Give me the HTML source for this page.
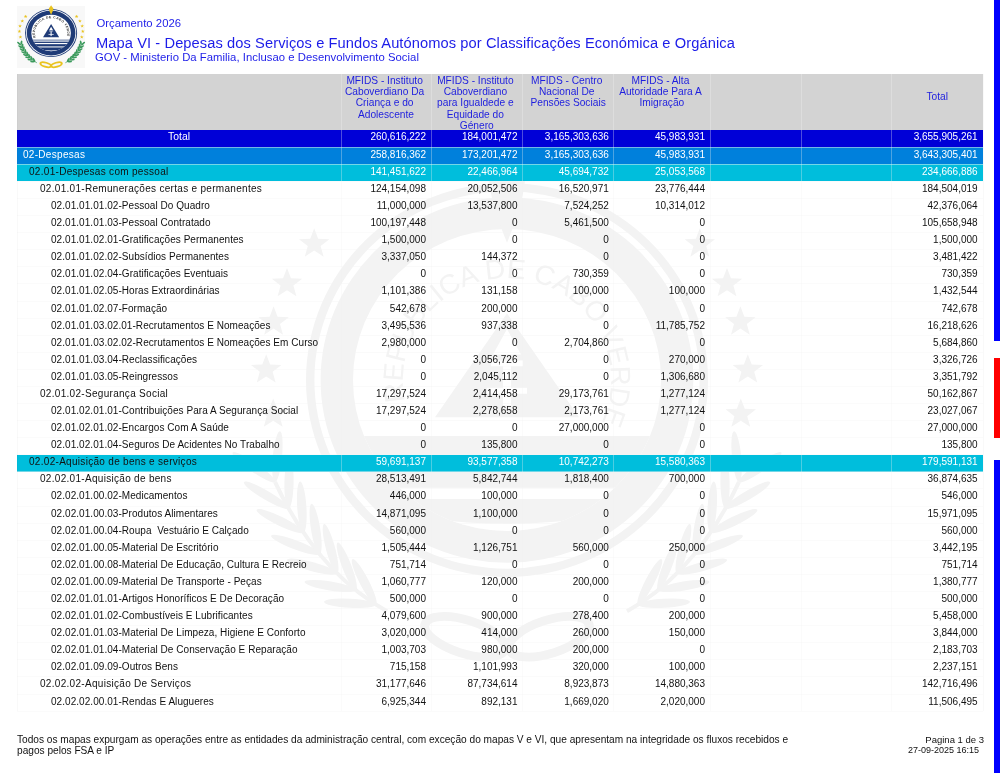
<!DOCTYPE html>
<html><head><meta charset="utf-8"><title>Mapa VI</title><style>
*{margin:0;padding:0;box-sizing:border-box}
html,body{width:1000px;height:773px;overflow:hidden;background:#fff}
body{position:relative;font-family:"Liberation Sans",sans-serif;color:#000}
#pg{position:absolute;left:0;top:0;width:1000px;height:773px;will-change:transform}
.a{position:absolute;white-space:pre;line-height:1}
.r{position:absolute;left:17px;width:966px}
</style></head><body><div id="pg">
<svg class="a" style="left:0;top:0" width="1000" height="773" viewBox="0 0 1000 773"><g transform="translate(507 380) scale(2.0 1.96)"><polygon points="-96.40,-77.40 -94.43,-72.12 -88.79,-71.87 -93.20,-68.36 -91.70,-62.93 -96.40,-66.04 -101.10,-62.93 -99.60,-68.36 -104.01,-71.87 -98.37,-72.12" fill="#f3f3f3"/><polygon points="96.40,-77.40 98.37,-72.12 104.01,-71.87 99.60,-68.36 101.10,-62.93 96.40,-66.04 91.70,-62.93 93.20,-68.36 88.79,-71.87 94.43,-72.12" fill="#f3f3f3"/><polygon points="-110.00,-57.20 -108.03,-51.92 -102.39,-51.67 -106.80,-48.16 -105.30,-42.73 -110.00,-45.84 -114.70,-42.73 -113.20,-48.16 -117.61,-51.67 -111.97,-51.92" fill="#f3f3f3"/><polygon points="110.00,-57.20 111.97,-51.92 117.61,-51.67 113.20,-48.16 114.70,-42.73 110.00,-45.84 105.30,-42.73 106.80,-48.16 102.39,-51.67 108.03,-51.92" fill="#f3f3f3"/><polygon points="-116.70,-37.60 -114.73,-32.32 -109.09,-32.07 -113.50,-28.56 -112.00,-23.13 -116.70,-26.24 -121.40,-23.13 -119.90,-28.56 -124.31,-32.07 -118.67,-32.32" fill="#f3f3f3"/><polygon points="116.70,-37.60 118.67,-32.32 124.31,-32.07 119.90,-28.56 121.40,-23.13 116.70,-26.24 112.00,-23.13 113.50,-28.56 109.09,-32.07 114.73,-32.32" fill="#f3f3f3"/><polygon points="-120.40,-13.20 -118.43,-7.92 -112.79,-7.67 -117.20,-4.16 -115.70,1.27 -120.40,-1.84 -125.10,1.27 -123.60,-4.16 -128.01,-7.67 -122.37,-7.92" fill="#f3f3f3"/><polygon points="120.40,-13.20 122.37,-7.92 128.01,-7.67 123.60,-4.16 125.10,1.27 120.40,-1.84 115.70,1.27 117.20,-4.16 112.79,-7.67 118.43,-7.92" fill="#f3f3f3"/><polygon points="-116.90,9.40 -114.93,14.68 -109.29,14.93 -113.70,18.44 -112.20,23.87 -116.90,20.76 -121.60,23.87 -120.10,18.44 -124.51,14.93 -118.87,14.68" fill="#f3f3f3"/><polygon points="116.90,9.40 118.87,14.68 124.51,14.93 120.10,18.44 121.60,23.87 116.90,20.76 112.20,23.87 113.70,18.44 109.29,14.93 114.93,14.68" fill="#f3f3f3"/><path d="M-116.0,52.0 Q-95.0,98.0 -60.0,118.0" stroke="#f3f3f3" stroke-width="2.0" fill="none"/><ellipse cx="-126.6" cy="44.5" rx="13.0" ry="2.3" transform="rotate(215.5 -126.6 44.5)" fill="#f3f3f3"/><ellipse cx="-114.8" cy="39.1" rx="13.0" ry="2.3" transform="rotate(275.5 -114.8 39.1)" fill="#f3f3f3"/><ellipse cx="-120.4" cy="58.8" rx="13.0" ry="2.3" transform="rotate(211.1 -120.4 58.8)" fill="#f3f3f3"/><ellipse cx="-109.0" cy="52.5" rx="13.0" ry="2.3" transform="rotate(271.1 -109.0 52.5)" fill="#f3f3f3"/><ellipse cx="-113.5" cy="72.0" rx="13.0" ry="2.3" transform="rotate(206.4 -113.5 72.0)" fill="#f3f3f3"/><ellipse cx="-102.6" cy="64.8" rx="13.0" ry="2.3" transform="rotate(266.4 -102.6 64.8)" fill="#f3f3f3"/><ellipse cx="-105.8" cy="84.1" rx="13.0" ry="2.3" transform="rotate(201.1 -105.8 84.1)" fill="#f3f3f3"/><ellipse cx="-95.7" cy="76.0" rx="13.0" ry="2.3" transform="rotate(261.1 -95.7 76.0)" fill="#f3f3f3"/><ellipse cx="-97.5" cy="95.2" rx="13.0" ry="2.3" transform="rotate(195.4 -97.5 95.2)" fill="#f3f3f3"/><ellipse cx="-88.2" cy="86.1" rx="13.0" ry="2.3" transform="rotate(255.4 -88.2 86.1)" fill="#f3f3f3"/><ellipse cx="-88.4" cy="105.1" rx="13.0" ry="2.3" transform="rotate(189.4 -88.4 105.1)" fill="#f3f3f3"/><ellipse cx="-80.1" cy="95.1" rx="13.0" ry="2.3" transform="rotate(249.4 -80.1 95.1)" fill="#f3f3f3"/><ellipse cx="-78.5" cy="113.9" rx="13.0" ry="2.3" transform="rotate(183.1 -78.5 113.9)" fill="#f3f3f3"/><ellipse cx="-71.4" cy="103.0" rx="13.0" ry="2.3" transform="rotate(243.1 -71.4 103.0)" fill="#f3f3f3"/><path d="M116.0,52.0 Q95.0,98.0 60.0,118.0" stroke="#f3f3f3" stroke-width="2.0" fill="none"/><ellipse cx="114.8" cy="39.1" rx="13.0" ry="2.3" transform="rotate(264.5 114.8 39.1)" fill="#f3f3f3"/><ellipse cx="126.6" cy="44.5" rx="13.0" ry="2.3" transform="rotate(324.5 126.6 44.5)" fill="#f3f3f3"/><ellipse cx="109.0" cy="52.5" rx="13.0" ry="2.3" transform="rotate(268.9 109.0 52.5)" fill="#f3f3f3"/><ellipse cx="120.4" cy="58.8" rx="13.0" ry="2.3" transform="rotate(328.9 120.4 58.8)" fill="#f3f3f3"/><ellipse cx="102.6" cy="64.8" rx="13.0" ry="2.3" transform="rotate(273.6 102.6 64.8)" fill="#f3f3f3"/><ellipse cx="113.5" cy="72.0" rx="13.0" ry="2.3" transform="rotate(333.6 113.5 72.0)" fill="#f3f3f3"/><ellipse cx="95.7" cy="76.0" rx="13.0" ry="2.3" transform="rotate(278.9 95.7 76.0)" fill="#f3f3f3"/><ellipse cx="105.8" cy="84.1" rx="13.0" ry="2.3" transform="rotate(338.9 105.8 84.1)" fill="#f3f3f3"/><ellipse cx="88.2" cy="86.1" rx="13.0" ry="2.3" transform="rotate(284.6 88.2 86.1)" fill="#f3f3f3"/><ellipse cx="97.5" cy="95.2" rx="13.0" ry="2.3" transform="rotate(344.6 97.5 95.2)" fill="#f3f3f3"/><ellipse cx="80.1" cy="95.1" rx="13.0" ry="2.3" transform="rotate(290.6 80.1 95.1)" fill="#f3f3f3"/><ellipse cx="88.4" cy="105.1" rx="13.0" ry="2.3" transform="rotate(350.6 88.4 105.1)" fill="#f3f3f3"/><ellipse cx="71.4" cy="103.0" rx="13.0" ry="2.3" transform="rotate(296.9 71.4 103.0)" fill="#f3f3f3"/><ellipse cx="78.5" cy="113.9" rx="13.0" ry="2.3" transform="rotate(356.9 78.5 113.9)" fill="#f3f3f3"/><ellipse cx="-21" cy="131" rx="21" ry="8.5" transform="rotate(18 -21 131)" fill="none" stroke="#f3f3f3" stroke-width="4.5"/><ellipse cx="21" cy="131" rx="21" ry="8.5" transform="rotate(-18 21 131)" fill="none" stroke="#f3f3f3" stroke-width="4.5"/><circle r="100.5" fill="#f3f3f3"/><circle r="96.3" fill="#ffffff"/><circle r="93.2" fill="#f3f3f3"/><circle r="77" fill="#ffffff"/><clipPath id="cpW"><circle r="77"/></clipPath><g clip-path="url(#cpW)"><rect x="-90" y="28.6" width="180" height="70" fill="#f3f3f3"/><rect x="-90" y="41.5" width="180" height="5" fill="#ffffff"/><rect x="-90" y="55" width="180" height="5.7" fill="#ffffff"/><path d="M-40,70.4 Q0,76.4 40,70.4 L37,76.6 Q0,82.6 -37,76.6 Z" fill="#ffffff"/></g><polygon points="0,-34 36,19 -36,19" fill="#f3f3f3"/><rect x="-8" y="-10" width="16" height="3" fill="#ffffff"/><rect x="-2" y="-7" width="4" height="20" fill="#ffffff"/><rect x="-10" y="4" width="20" height="3" fill="#ffffff"/><polygon points="0,-26 7,-13 -7,-13" fill="#ffffff"/><path d="M0,-116 L-3,-110 L-9,-102 Q-8,-90 0,-70 Q8,-90 9,-102 L3,-110 Z" fill="#f3f3f3"/><path id="arcW" d="M-50.9,10.8 A52,52 0 1,1 47.5,21.2" fill="none"/><text font-family="Liberation Sans, sans-serif" font-size="14" font-weight="normal" fill="#f3f3f3" ><textPath href="#arcW" startOffset="0" textLength="196.0" lengthAdjust="spacing">REPUBLICA DE CABO VERDE</textPath></text></g></svg>
<div class="a" style="left:17px;top:74px;width:966px;height:56.099999999999994px;background:#d3d3d3"></div>
<div class="a" style="left:339.6px;width:90.0px;top:75.60px;font-size:10.2px;color:#1e1ede;text-align:center">MFIDS - Instituto</div>
<div class="a" style="left:339.6px;width:90.0px;top:87.00px;font-size:10.2px;color:#1e1ede;text-align:center">Caboverdiano Da</div>
<div class="a" style="left:339.6px;width:90.0px;top:98.40px;font-size:10.2px;color:#1e1ede;text-align:center">Criança e do</div>
<div class="a" style="left:341.0px;width:90.0px;top:109.80px;font-size:10.2px;color:#1e1ede;text-align:center">Adolescente</div>
<div class="a" style="left:429.6px;width:91.5px;top:75.60px;font-size:10.2px;color:#1e1ede;text-align:center">MFIDS - Instituto</div>
<div class="a" style="left:429.6px;width:91.5px;top:87.00px;font-size:10.2px;color:#1e1ede;text-align:center">Caboverdiano</div>
<div class="a" style="left:429.6px;width:91.5px;top:98.40px;font-size:10.2px;color:#1e1ede;text-align:center">para Igualdede e</div>
<div class="a" style="left:429.6px;width:91.5px;top:109.80px;font-size:10.2px;color:#1e1ede;text-align:center">Equidade do</div>
<div class="a" style="left:431.0px;width:91.5px;top:121.20px;font-size:10.2px;color:#1e1ede;text-align:center">Género</div>
<div class="a" style="left:521.1px;width:91.2px;top:75.60px;font-size:10.2px;color:#1e1ede;text-align:center">MFIDS - Centro</div>
<div class="a" style="left:521.1px;width:91.2px;top:87.00px;font-size:10.2px;color:#1e1ede;text-align:center">Nacional De</div>
<div class="a" style="left:522.5px;width:91.2px;top:98.40px;font-size:10.2px;color:#1e1ede;text-align:center">Pensões Sociais</div>
<div class="a" style="left:612.4px;width:96.2px;top:75.60px;font-size:10.2px;color:#1e1ede;text-align:center">MFIDS - Alta</div>
<div class="a" style="left:612.4px;width:96.2px;top:87.00px;font-size:10.2px;color:#1e1ede;text-align:center">Autoridade Para A</div>
<div class="a" style="left:613.8px;width:96.2px;top:98.40px;font-size:10.2px;color:#1e1ede;text-align:center">Imigração</div>
<div class="a" style="left:710.0px;width:91.4px;top:75.60px;font-size:10.2px;color:#1e1ede;text-align:center"></div>
<div class="a" style="left:801.4px;width:90.0px;top:75.60px;font-size:10.2px;color:#1e1ede;text-align:center"></div>
<div class="a" style="left:891.4px;width:91.6px;top:92.30px;font-size:10.2px;color:#1e1ede;text-align:center">Total</div>
<div class="a" style="left:17px;top:130.10px;width:966px;height:17.09px;background:#0000d7"></div>
<div class="a" style="left:17px;width:324px;top:132.30px;font-size:10.4px;color:#ffffff;text-align:center;letter-spacing:0px">Total</div>
<div class="a" style="right:574.0px;top:132.30px;font-size:10px;color:#ffffff;letter-spacing:0px">260,616,222</div>
<div class="a" style="right:482.5px;top:132.30px;font-size:10px;color:#ffffff;letter-spacing:0px">184,001,472</div>
<div class="a" style="right:391.2px;top:132.30px;font-size:10px;color:#ffffff;letter-spacing:0px">3,165,303,636</div>
<div class="a" style="right:295.0px;top:132.30px;font-size:10px;color:#ffffff;letter-spacing:0px">45,983,931</div>
<div class="a" style="right:22.4px;top:132.30px;font-size:10px;color:#ffffff;letter-spacing:0px">3,655,905,261</div>
<div class="a" style="left:17px;top:147.19px;width:966px;height:17.09px;background:#0080dc"></div>
<div class="a" style="left:23px;top:149.69px;font-size:10px;color:#ffffff;letter-spacing:0.3px">02-Despesas</div>
<div class="a" style="right:574.0px;top:149.69px;font-size:10px;color:#ffffff;letter-spacing:0px">258,816,362</div>
<div class="a" style="right:482.5px;top:149.69px;font-size:10px;color:#ffffff;letter-spacing:0px">173,201,472</div>
<div class="a" style="right:391.2px;top:149.69px;font-size:10px;color:#ffffff;letter-spacing:0px">3,165,303,636</div>
<div class="a" style="right:295.0px;top:149.69px;font-size:10px;color:#ffffff;letter-spacing:0px">45,983,931</div>
<div class="a" style="right:22.4px;top:149.69px;font-size:10px;color:#ffffff;letter-spacing:0px">3,643,305,401</div>
<div class="a" style="left:17px;top:164.28px;width:966px;height:17.09px;background:#00bedc"></div>
<div class="a" style="left:29px;top:166.78px;font-size:10px;color:#111111;letter-spacing:0.3px">02.01-Despesas com pessoal</div>
<div class="a" style="right:574.0px;top:166.78px;font-size:10px;color:#ffffff;letter-spacing:0px">141,451,622</div>
<div class="a" style="right:482.5px;top:166.78px;font-size:10px;color:#ffffff;letter-spacing:0px">22,466,964</div>
<div class="a" style="right:391.2px;top:166.78px;font-size:10px;color:#ffffff;letter-spacing:0px">45,694,732</div>
<div class="a" style="right:295.0px;top:166.78px;font-size:10px;color:#ffffff;letter-spacing:0px">25,053,568</div>
<div class="a" style="right:22.4px;top:166.78px;font-size:10px;color:#ffffff;letter-spacing:0px">234,666,886</div>
<div class="a" style="left:40px;top:183.87px;font-size:10px;color:#111111;letter-spacing:0.3px">02.01.01-Remunerações certas e permanentes</div>
<div class="a" style="right:574.0px;top:183.87px;font-size:10px;color:#111111;letter-spacing:0px">124,154,098</div>
<div class="a" style="right:482.5px;top:183.87px;font-size:10px;color:#111111;letter-spacing:0px">20,052,506</div>
<div class="a" style="right:391.2px;top:183.87px;font-size:10px;color:#111111;letter-spacing:0px">16,520,971</div>
<div class="a" style="right:295.0px;top:183.87px;font-size:10px;color:#111111;letter-spacing:0px">23,776,444</div>
<div class="a" style="right:22.4px;top:183.87px;font-size:10px;color:#111111;letter-spacing:0px">184,504,019</div>
<div class="a" style="left:51px;top:200.96px;font-size:10px;color:#111111;letter-spacing:0.05px">02.01.01.01.02-Pessoal Do Quadro</div>
<div class="a" style="right:574.0px;top:200.96px;font-size:10px;color:#111111;letter-spacing:0px">11,000,000</div>
<div class="a" style="right:482.5px;top:200.96px;font-size:10px;color:#111111;letter-spacing:0px">13,537,800</div>
<div class="a" style="right:391.2px;top:200.96px;font-size:10px;color:#111111;letter-spacing:0px">7,524,252</div>
<div class="a" style="right:295.0px;top:200.96px;font-size:10px;color:#111111;letter-spacing:0px">10,314,012</div>
<div class="a" style="right:22.4px;top:200.96px;font-size:10px;color:#111111;letter-spacing:0px">42,376,064</div>
<div class="a" style="left:51px;top:218.05px;font-size:10px;color:#111111;letter-spacing:0.05px">02.01.01.01.03-Pessoal Contratado</div>
<div class="a" style="right:574.0px;top:218.05px;font-size:10px;color:#111111;letter-spacing:0px">100,197,448</div>
<div class="a" style="right:482.5px;top:218.05px;font-size:10px;color:#111111;letter-spacing:0px">0</div>
<div class="a" style="right:391.2px;top:218.05px;font-size:10px;color:#111111;letter-spacing:0px">5,461,500</div>
<div class="a" style="right:295.0px;top:218.05px;font-size:10px;color:#111111;letter-spacing:0px">0</div>
<div class="a" style="right:22.4px;top:218.05px;font-size:10px;color:#111111;letter-spacing:0px">105,658,948</div>
<div class="a" style="left:51px;top:235.14px;font-size:10px;color:#111111;letter-spacing:0.05px">02.01.01.02.01-Gratificações Permanentes</div>
<div class="a" style="right:574.0px;top:235.14px;font-size:10px;color:#111111;letter-spacing:0px">1,500,000</div>
<div class="a" style="right:482.5px;top:235.14px;font-size:10px;color:#111111;letter-spacing:0px">0</div>
<div class="a" style="right:391.2px;top:235.14px;font-size:10px;color:#111111;letter-spacing:0px">0</div>
<div class="a" style="right:295.0px;top:235.14px;font-size:10px;color:#111111;letter-spacing:0px">0</div>
<div class="a" style="right:22.4px;top:235.14px;font-size:10px;color:#111111;letter-spacing:0px">1,500,000</div>
<div class="a" style="left:51px;top:252.23px;font-size:10px;color:#111111;letter-spacing:0.05px">02.01.01.02.02-Subsídios Permanentes</div>
<div class="a" style="right:574.0px;top:252.23px;font-size:10px;color:#111111;letter-spacing:0px">3,337,050</div>
<div class="a" style="right:482.5px;top:252.23px;font-size:10px;color:#111111;letter-spacing:0px">144,372</div>
<div class="a" style="right:391.2px;top:252.23px;font-size:10px;color:#111111;letter-spacing:0px">0</div>
<div class="a" style="right:295.0px;top:252.23px;font-size:10px;color:#111111;letter-spacing:0px">0</div>
<div class="a" style="right:22.4px;top:252.23px;font-size:10px;color:#111111;letter-spacing:0px">3,481,422</div>
<div class="a" style="left:51px;top:269.32px;font-size:10px;color:#111111;letter-spacing:0.05px">02.01.01.02.04-Gratificações Eventuais</div>
<div class="a" style="right:574.0px;top:269.32px;font-size:10px;color:#111111;letter-spacing:0px">0</div>
<div class="a" style="right:482.5px;top:269.32px;font-size:10px;color:#111111;letter-spacing:0px">0</div>
<div class="a" style="right:391.2px;top:269.32px;font-size:10px;color:#111111;letter-spacing:0px">730,359</div>
<div class="a" style="right:295.0px;top:269.32px;font-size:10px;color:#111111;letter-spacing:0px">0</div>
<div class="a" style="right:22.4px;top:269.32px;font-size:10px;color:#111111;letter-spacing:0px">730,359</div>
<div class="a" style="left:51px;top:286.41px;font-size:10px;color:#111111;letter-spacing:0.05px">02.01.01.02.05-Horas Extraordinárias</div>
<div class="a" style="right:574.0px;top:286.41px;font-size:10px;color:#111111;letter-spacing:0px">1,101,386</div>
<div class="a" style="right:482.5px;top:286.41px;font-size:10px;color:#111111;letter-spacing:0px">131,158</div>
<div class="a" style="right:391.2px;top:286.41px;font-size:10px;color:#111111;letter-spacing:0px">100,000</div>
<div class="a" style="right:295.0px;top:286.41px;font-size:10px;color:#111111;letter-spacing:0px">100,000</div>
<div class="a" style="right:22.4px;top:286.41px;font-size:10px;color:#111111;letter-spacing:0px">1,432,544</div>
<div class="a" style="left:51px;top:303.50px;font-size:10px;color:#111111;letter-spacing:0.05px">02.01.01.02.07-Formação</div>
<div class="a" style="right:574.0px;top:303.50px;font-size:10px;color:#111111;letter-spacing:0px">542,678</div>
<div class="a" style="right:482.5px;top:303.50px;font-size:10px;color:#111111;letter-spacing:0px">200,000</div>
<div class="a" style="right:391.2px;top:303.50px;font-size:10px;color:#111111;letter-spacing:0px">0</div>
<div class="a" style="right:295.0px;top:303.50px;font-size:10px;color:#111111;letter-spacing:0px">0</div>
<div class="a" style="right:22.4px;top:303.50px;font-size:10px;color:#111111;letter-spacing:0px">742,678</div>
<div class="a" style="left:51px;top:320.59px;font-size:10px;color:#111111;letter-spacing:0.05px">02.01.01.03.02.01-Recrutamentos E Nomeações</div>
<div class="a" style="right:574.0px;top:320.59px;font-size:10px;color:#111111;letter-spacing:0px">3,495,536</div>
<div class="a" style="right:482.5px;top:320.59px;font-size:10px;color:#111111;letter-spacing:0px">937,338</div>
<div class="a" style="right:391.2px;top:320.59px;font-size:10px;color:#111111;letter-spacing:0px">0</div>
<div class="a" style="right:295.0px;top:320.59px;font-size:10px;color:#111111;letter-spacing:0px">11,785,752</div>
<div class="a" style="right:22.4px;top:320.59px;font-size:10px;color:#111111;letter-spacing:0px">16,218,626</div>
<div class="a" style="left:51px;top:337.68px;font-size:10px;color:#111111;letter-spacing:0.05px">02.01.01.03.02.02-Recrutamentos E Nomeações Em Curso</div>
<div class="a" style="right:574.0px;top:337.68px;font-size:10px;color:#111111;letter-spacing:0px">2,980,000</div>
<div class="a" style="right:482.5px;top:337.68px;font-size:10px;color:#111111;letter-spacing:0px">0</div>
<div class="a" style="right:391.2px;top:337.68px;font-size:10px;color:#111111;letter-spacing:0px">2,704,860</div>
<div class="a" style="right:295.0px;top:337.68px;font-size:10px;color:#111111;letter-spacing:0px">0</div>
<div class="a" style="right:22.4px;top:337.68px;font-size:10px;color:#111111;letter-spacing:0px">5,684,860</div>
<div class="a" style="left:51px;top:354.77px;font-size:10px;color:#111111;letter-spacing:0.05px">02.01.01.03.04-Reclassificações</div>
<div class="a" style="right:574.0px;top:354.77px;font-size:10px;color:#111111;letter-spacing:0px">0</div>
<div class="a" style="right:482.5px;top:354.77px;font-size:10px;color:#111111;letter-spacing:0px">3,056,726</div>
<div class="a" style="right:391.2px;top:354.77px;font-size:10px;color:#111111;letter-spacing:0px">0</div>
<div class="a" style="right:295.0px;top:354.77px;font-size:10px;color:#111111;letter-spacing:0px">270,000</div>
<div class="a" style="right:22.4px;top:354.77px;font-size:10px;color:#111111;letter-spacing:0px">3,326,726</div>
<div class="a" style="left:51px;top:371.86px;font-size:10px;color:#111111;letter-spacing:0.05px">02.01.01.03.05-Reingressos</div>
<div class="a" style="right:574.0px;top:371.86px;font-size:10px;color:#111111;letter-spacing:0px">0</div>
<div class="a" style="right:482.5px;top:371.86px;font-size:10px;color:#111111;letter-spacing:0px">2,045,112</div>
<div class="a" style="right:391.2px;top:371.86px;font-size:10px;color:#111111;letter-spacing:0px">0</div>
<div class="a" style="right:295.0px;top:371.86px;font-size:10px;color:#111111;letter-spacing:0px">1,306,680</div>
<div class="a" style="right:22.4px;top:371.86px;font-size:10px;color:#111111;letter-spacing:0px">3,351,792</div>
<div class="a" style="left:40px;top:388.95px;font-size:10px;color:#111111;letter-spacing:0.3px">02.01.02-Segurança Social</div>
<div class="a" style="right:574.0px;top:388.95px;font-size:10px;color:#111111;letter-spacing:0px">17,297,524</div>
<div class="a" style="right:482.5px;top:388.95px;font-size:10px;color:#111111;letter-spacing:0px">2,414,458</div>
<div class="a" style="right:391.2px;top:388.95px;font-size:10px;color:#111111;letter-spacing:0px">29,173,761</div>
<div class="a" style="right:295.0px;top:388.95px;font-size:10px;color:#111111;letter-spacing:0px">1,277,124</div>
<div class="a" style="right:22.4px;top:388.95px;font-size:10px;color:#111111;letter-spacing:0px">50,162,867</div>
<div class="a" style="left:51px;top:406.04px;font-size:10px;color:#111111;letter-spacing:0.05px">02.01.02.01.01-Contribuições Para A Segurança Social</div>
<div class="a" style="right:574.0px;top:406.04px;font-size:10px;color:#111111;letter-spacing:0px">17,297,524</div>
<div class="a" style="right:482.5px;top:406.04px;font-size:10px;color:#111111;letter-spacing:0px">2,278,658</div>
<div class="a" style="right:391.2px;top:406.04px;font-size:10px;color:#111111;letter-spacing:0px">2,173,761</div>
<div class="a" style="right:295.0px;top:406.04px;font-size:10px;color:#111111;letter-spacing:0px">1,277,124</div>
<div class="a" style="right:22.4px;top:406.04px;font-size:10px;color:#111111;letter-spacing:0px">23,027,067</div>
<div class="a" style="left:51px;top:423.13px;font-size:10px;color:#111111;letter-spacing:0.05px">02.01.02.01.02-Encargos Com A Saúde</div>
<div class="a" style="right:574.0px;top:423.13px;font-size:10px;color:#111111;letter-spacing:0px">0</div>
<div class="a" style="right:482.5px;top:423.13px;font-size:10px;color:#111111;letter-spacing:0px">0</div>
<div class="a" style="right:391.2px;top:423.13px;font-size:10px;color:#111111;letter-spacing:0px">27,000,000</div>
<div class="a" style="right:295.0px;top:423.13px;font-size:10px;color:#111111;letter-spacing:0px">0</div>
<div class="a" style="right:22.4px;top:423.13px;font-size:10px;color:#111111;letter-spacing:0px">27,000,000</div>
<div class="a" style="left:51px;top:440.22px;font-size:10px;color:#111111;letter-spacing:0.05px">02.01.02.01.04-Seguros De Acidentes No Trabalho</div>
<div class="a" style="right:574.0px;top:440.22px;font-size:10px;color:#111111;letter-spacing:0px">0</div>
<div class="a" style="right:482.5px;top:440.22px;font-size:10px;color:#111111;letter-spacing:0px">135,800</div>
<div class="a" style="right:391.2px;top:440.22px;font-size:10px;color:#111111;letter-spacing:0px">0</div>
<div class="a" style="right:295.0px;top:440.22px;font-size:10px;color:#111111;letter-spacing:0px">0</div>
<div class="a" style="right:22.4px;top:440.22px;font-size:10px;color:#111111;letter-spacing:0px">135,800</div>
<div class="a" style="left:17px;top:454.81px;width:966px;height:17.09px;background:#00bedc"></div>
<div class="a" style="left:29px;top:457.31px;font-size:10px;color:#111111;letter-spacing:0.3px">02.02-Aquisição de bens e serviços</div>
<div class="a" style="right:574.0px;top:457.31px;font-size:10px;color:#ffffff;letter-spacing:0px">59,691,137</div>
<div class="a" style="right:482.5px;top:457.31px;font-size:10px;color:#ffffff;letter-spacing:0px">93,577,358</div>
<div class="a" style="right:391.2px;top:457.31px;font-size:10px;color:#ffffff;letter-spacing:0px">10,742,273</div>
<div class="a" style="right:295.0px;top:457.31px;font-size:10px;color:#ffffff;letter-spacing:0px">15,580,363</div>
<div class="a" style="right:22.4px;top:457.31px;font-size:10px;color:#ffffff;letter-spacing:0px">179,591,131</div>
<div class="a" style="left:40px;top:474.40px;font-size:10px;color:#111111;letter-spacing:0.3px">02.02.01-Aquisição de bens</div>
<div class="a" style="right:574.0px;top:474.40px;font-size:10px;color:#111111;letter-spacing:0px">28,513,491</div>
<div class="a" style="right:482.5px;top:474.40px;font-size:10px;color:#111111;letter-spacing:0px">5,842,744</div>
<div class="a" style="right:391.2px;top:474.40px;font-size:10px;color:#111111;letter-spacing:0px">1,818,400</div>
<div class="a" style="right:295.0px;top:474.40px;font-size:10px;color:#111111;letter-spacing:0px">700,000</div>
<div class="a" style="right:22.4px;top:474.40px;font-size:10px;color:#111111;letter-spacing:0px">36,874,635</div>
<div class="a" style="left:51px;top:491.49px;font-size:10px;color:#111111;letter-spacing:0.05px">02.02.01.00.02-Medicamentos</div>
<div class="a" style="right:574.0px;top:491.49px;font-size:10px;color:#111111;letter-spacing:0px">446,000</div>
<div class="a" style="right:482.5px;top:491.49px;font-size:10px;color:#111111;letter-spacing:0px">100,000</div>
<div class="a" style="right:391.2px;top:491.49px;font-size:10px;color:#111111;letter-spacing:0px">0</div>
<div class="a" style="right:295.0px;top:491.49px;font-size:10px;color:#111111;letter-spacing:0px">0</div>
<div class="a" style="right:22.4px;top:491.49px;font-size:10px;color:#111111;letter-spacing:0px">546,000</div>
<div class="a" style="left:51px;top:508.58px;font-size:10px;color:#111111;letter-spacing:0.05px">02.02.01.00.03-Produtos Alimentares</div>
<div class="a" style="right:574.0px;top:508.58px;font-size:10px;color:#111111;letter-spacing:0px">14,871,095</div>
<div class="a" style="right:482.5px;top:508.58px;font-size:10px;color:#111111;letter-spacing:0px">1,100,000</div>
<div class="a" style="right:391.2px;top:508.58px;font-size:10px;color:#111111;letter-spacing:0px">0</div>
<div class="a" style="right:295.0px;top:508.58px;font-size:10px;color:#111111;letter-spacing:0px">0</div>
<div class="a" style="right:22.4px;top:508.58px;font-size:10px;color:#111111;letter-spacing:0px">15,971,095</div>
<div class="a" style="left:51px;top:525.67px;font-size:10px;color:#111111;letter-spacing:0.05px">02.02.01.00.04-Roupa  Vestuário E Calçado</div>
<div class="a" style="right:574.0px;top:525.67px;font-size:10px;color:#111111;letter-spacing:0px">560,000</div>
<div class="a" style="right:482.5px;top:525.67px;font-size:10px;color:#111111;letter-spacing:0px">0</div>
<div class="a" style="right:391.2px;top:525.67px;font-size:10px;color:#111111;letter-spacing:0px">0</div>
<div class="a" style="right:295.0px;top:525.67px;font-size:10px;color:#111111;letter-spacing:0px">0</div>
<div class="a" style="right:22.4px;top:525.67px;font-size:10px;color:#111111;letter-spacing:0px">560,000</div>
<div class="a" style="left:51px;top:542.76px;font-size:10px;color:#111111;letter-spacing:0.05px">02.02.01.00.05-Material De Escritório</div>
<div class="a" style="right:574.0px;top:542.76px;font-size:10px;color:#111111;letter-spacing:0px">1,505,444</div>
<div class="a" style="right:482.5px;top:542.76px;font-size:10px;color:#111111;letter-spacing:0px">1,126,751</div>
<div class="a" style="right:391.2px;top:542.76px;font-size:10px;color:#111111;letter-spacing:0px">560,000</div>
<div class="a" style="right:295.0px;top:542.76px;font-size:10px;color:#111111;letter-spacing:0px">250,000</div>
<div class="a" style="right:22.4px;top:542.76px;font-size:10px;color:#111111;letter-spacing:0px">3,442,195</div>
<div class="a" style="left:51px;top:559.85px;font-size:10px;color:#111111;letter-spacing:0.05px">02.02.01.00.08-Material De Educação, Cultura E Recreio</div>
<div class="a" style="right:574.0px;top:559.85px;font-size:10px;color:#111111;letter-spacing:0px">751,714</div>
<div class="a" style="right:482.5px;top:559.85px;font-size:10px;color:#111111;letter-spacing:0px">0</div>
<div class="a" style="right:391.2px;top:559.85px;font-size:10px;color:#111111;letter-spacing:0px">0</div>
<div class="a" style="right:295.0px;top:559.85px;font-size:10px;color:#111111;letter-spacing:0px">0</div>
<div class="a" style="right:22.4px;top:559.85px;font-size:10px;color:#111111;letter-spacing:0px">751,714</div>
<div class="a" style="left:51px;top:576.94px;font-size:10px;color:#111111;letter-spacing:0.05px">02.02.01.00.09-Material De Transporte - Peças</div>
<div class="a" style="right:574.0px;top:576.94px;font-size:10px;color:#111111;letter-spacing:0px">1,060,777</div>
<div class="a" style="right:482.5px;top:576.94px;font-size:10px;color:#111111;letter-spacing:0px">120,000</div>
<div class="a" style="right:391.2px;top:576.94px;font-size:10px;color:#111111;letter-spacing:0px">200,000</div>
<div class="a" style="right:295.0px;top:576.94px;font-size:10px;color:#111111;letter-spacing:0px">0</div>
<div class="a" style="right:22.4px;top:576.94px;font-size:10px;color:#111111;letter-spacing:0px">1,380,777</div>
<div class="a" style="left:51px;top:594.03px;font-size:10px;color:#111111;letter-spacing:0.05px">02.02.01.01.01-Artigos Honoríficos E De Decoração</div>
<div class="a" style="right:574.0px;top:594.03px;font-size:10px;color:#111111;letter-spacing:0px">500,000</div>
<div class="a" style="right:482.5px;top:594.03px;font-size:10px;color:#111111;letter-spacing:0px">0</div>
<div class="a" style="right:391.2px;top:594.03px;font-size:10px;color:#111111;letter-spacing:0px">0</div>
<div class="a" style="right:295.0px;top:594.03px;font-size:10px;color:#111111;letter-spacing:0px">0</div>
<div class="a" style="right:22.4px;top:594.03px;font-size:10px;color:#111111;letter-spacing:0px">500,000</div>
<div class="a" style="left:51px;top:611.12px;font-size:10px;color:#111111;letter-spacing:0.05px">02.02.01.01.02-Combustíveis E Lubrificantes</div>
<div class="a" style="right:574.0px;top:611.12px;font-size:10px;color:#111111;letter-spacing:0px">4,079,600</div>
<div class="a" style="right:482.5px;top:611.12px;font-size:10px;color:#111111;letter-spacing:0px">900,000</div>
<div class="a" style="right:391.2px;top:611.12px;font-size:10px;color:#111111;letter-spacing:0px">278,400</div>
<div class="a" style="right:295.0px;top:611.12px;font-size:10px;color:#111111;letter-spacing:0px">200,000</div>
<div class="a" style="right:22.4px;top:611.12px;font-size:10px;color:#111111;letter-spacing:0px">5,458,000</div>
<div class="a" style="left:51px;top:628.21px;font-size:10px;color:#111111;letter-spacing:0.05px">02.02.01.01.03-Material De Limpeza, Higiene E Conforto</div>
<div class="a" style="right:574.0px;top:628.21px;font-size:10px;color:#111111;letter-spacing:0px">3,020,000</div>
<div class="a" style="right:482.5px;top:628.21px;font-size:10px;color:#111111;letter-spacing:0px">414,000</div>
<div class="a" style="right:391.2px;top:628.21px;font-size:10px;color:#111111;letter-spacing:0px">260,000</div>
<div class="a" style="right:295.0px;top:628.21px;font-size:10px;color:#111111;letter-spacing:0px">150,000</div>
<div class="a" style="right:22.4px;top:628.21px;font-size:10px;color:#111111;letter-spacing:0px">3,844,000</div>
<div class="a" style="left:51px;top:645.30px;font-size:10px;color:#111111;letter-spacing:0.05px">02.02.01.01.04-Material De Conservação E Reparação</div>
<div class="a" style="right:574.0px;top:645.30px;font-size:10px;color:#111111;letter-spacing:0px">1,003,703</div>
<div class="a" style="right:482.5px;top:645.30px;font-size:10px;color:#111111;letter-spacing:0px">980,000</div>
<div class="a" style="right:391.2px;top:645.30px;font-size:10px;color:#111111;letter-spacing:0px">200,000</div>
<div class="a" style="right:295.0px;top:645.30px;font-size:10px;color:#111111;letter-spacing:0px">0</div>
<div class="a" style="right:22.4px;top:645.30px;font-size:10px;color:#111111;letter-spacing:0px">2,183,703</div>
<div class="a" style="left:51px;top:662.39px;font-size:10px;color:#111111;letter-spacing:0.05px">02.02.01.09.09-Outros Bens</div>
<div class="a" style="right:574.0px;top:662.39px;font-size:10px;color:#111111;letter-spacing:0px">715,158</div>
<div class="a" style="right:482.5px;top:662.39px;font-size:10px;color:#111111;letter-spacing:0px">1,101,993</div>
<div class="a" style="right:391.2px;top:662.39px;font-size:10px;color:#111111;letter-spacing:0px">320,000</div>
<div class="a" style="right:295.0px;top:662.39px;font-size:10px;color:#111111;letter-spacing:0px">100,000</div>
<div class="a" style="right:22.4px;top:662.39px;font-size:10px;color:#111111;letter-spacing:0px">2,237,151</div>
<div class="a" style="left:40px;top:679.48px;font-size:10px;color:#111111;letter-spacing:0.3px">02.02.02-Aquisição De Serviços</div>
<div class="a" style="right:574.0px;top:679.48px;font-size:10px;color:#111111;letter-spacing:0px">31,177,646</div>
<div class="a" style="right:482.5px;top:679.48px;font-size:10px;color:#111111;letter-spacing:0px">87,734,614</div>
<div class="a" style="right:391.2px;top:679.48px;font-size:10px;color:#111111;letter-spacing:0px">8,923,873</div>
<div class="a" style="right:295.0px;top:679.48px;font-size:10px;color:#111111;letter-spacing:0px">14,880,363</div>
<div class="a" style="right:22.4px;top:679.48px;font-size:10px;color:#111111;letter-spacing:0px">142,716,496</div>
<div class="a" style="left:51px;top:696.57px;font-size:10px;color:#111111;letter-spacing:0.05px">02.02.02.00.01-Rendas E Alugueres</div>
<div class="a" style="right:574.0px;top:696.57px;font-size:10px;color:#111111;letter-spacing:0px">6,925,344</div>
<div class="a" style="right:482.5px;top:696.57px;font-size:10px;color:#111111;letter-spacing:0px">892,131</div>
<div class="a" style="right:391.2px;top:696.57px;font-size:10px;color:#111111;letter-spacing:0px">1,669,020</div>
<div class="a" style="right:295.0px;top:696.57px;font-size:10px;color:#111111;letter-spacing:0px">2,020,000</div>
<div class="a" style="right:22.4px;top:696.57px;font-size:10px;color:#111111;letter-spacing:0px">11,506,495</div>
<div class="a" style="left:17px;top:146.69px;width:966px;height:1px;background:rgba(0,0,0,0.035)"></div>
<div class="a" style="left:17px;top:146.69px;width:966px;height:1px;background:rgba(255,255,255,0.45)"></div>
<div class="a" style="left:17px;top:163.78px;width:966px;height:1px;background:rgba(0,0,0,0.035)"></div>
<div class="a" style="left:17px;top:163.78px;width:966px;height:1px;background:rgba(255,255,255,0.45)"></div>
<div class="a" style="left:17px;top:180.87px;width:966px;height:1px;background:rgba(0,0,0,0.035)"></div>
<div class="a" style="left:17px;top:180.87px;width:966px;height:1px;background:rgba(255,255,255,0.45)"></div>
<div class="a" style="left:17px;top:197.96px;width:966px;height:1px;background:rgba(0,0,0,0.035)"></div>
<div class="a" style="left:17px;top:197.96px;width:966px;height:1px;background:rgba(255,255,255,0.45)"></div>
<div class="a" style="left:17px;top:215.05px;width:966px;height:1px;background:rgba(0,0,0,0.035)"></div>
<div class="a" style="left:17px;top:215.05px;width:966px;height:1px;background:rgba(255,255,255,0.45)"></div>
<div class="a" style="left:17px;top:232.14px;width:966px;height:1px;background:rgba(0,0,0,0.035)"></div>
<div class="a" style="left:17px;top:232.14px;width:966px;height:1px;background:rgba(255,255,255,0.45)"></div>
<div class="a" style="left:17px;top:249.23px;width:966px;height:1px;background:rgba(0,0,0,0.035)"></div>
<div class="a" style="left:17px;top:249.23px;width:966px;height:1px;background:rgba(255,255,255,0.45)"></div>
<div class="a" style="left:17px;top:266.32px;width:966px;height:1px;background:rgba(0,0,0,0.035)"></div>
<div class="a" style="left:17px;top:266.32px;width:966px;height:1px;background:rgba(255,255,255,0.45)"></div>
<div class="a" style="left:17px;top:283.41px;width:966px;height:1px;background:rgba(0,0,0,0.035)"></div>
<div class="a" style="left:17px;top:283.41px;width:966px;height:1px;background:rgba(255,255,255,0.45)"></div>
<div class="a" style="left:17px;top:300.50px;width:966px;height:1px;background:rgba(0,0,0,0.035)"></div>
<div class="a" style="left:17px;top:300.50px;width:966px;height:1px;background:rgba(255,255,255,0.45)"></div>
<div class="a" style="left:17px;top:317.59px;width:966px;height:1px;background:rgba(0,0,0,0.035)"></div>
<div class="a" style="left:17px;top:317.59px;width:966px;height:1px;background:rgba(255,255,255,0.45)"></div>
<div class="a" style="left:17px;top:334.68px;width:966px;height:1px;background:rgba(0,0,0,0.035)"></div>
<div class="a" style="left:17px;top:334.68px;width:966px;height:1px;background:rgba(255,255,255,0.45)"></div>
<div class="a" style="left:17px;top:351.77px;width:966px;height:1px;background:rgba(0,0,0,0.035)"></div>
<div class="a" style="left:17px;top:351.77px;width:966px;height:1px;background:rgba(255,255,255,0.45)"></div>
<div class="a" style="left:17px;top:368.86px;width:966px;height:1px;background:rgba(0,0,0,0.035)"></div>
<div class="a" style="left:17px;top:368.86px;width:966px;height:1px;background:rgba(255,255,255,0.45)"></div>
<div class="a" style="left:17px;top:385.95px;width:966px;height:1px;background:rgba(0,0,0,0.035)"></div>
<div class="a" style="left:17px;top:385.95px;width:966px;height:1px;background:rgba(255,255,255,0.45)"></div>
<div class="a" style="left:17px;top:403.04px;width:966px;height:1px;background:rgba(0,0,0,0.035)"></div>
<div class="a" style="left:17px;top:403.04px;width:966px;height:1px;background:rgba(255,255,255,0.45)"></div>
<div class="a" style="left:17px;top:420.13px;width:966px;height:1px;background:rgba(0,0,0,0.035)"></div>
<div class="a" style="left:17px;top:420.13px;width:966px;height:1px;background:rgba(255,255,255,0.45)"></div>
<div class="a" style="left:17px;top:437.22px;width:966px;height:1px;background:rgba(0,0,0,0.035)"></div>
<div class="a" style="left:17px;top:437.22px;width:966px;height:1px;background:rgba(255,255,255,0.45)"></div>
<div class="a" style="left:17px;top:454.31px;width:966px;height:1px;background:rgba(0,0,0,0.035)"></div>
<div class="a" style="left:17px;top:454.31px;width:966px;height:1px;background:rgba(255,255,255,0.45)"></div>
<div class="a" style="left:17px;top:471.40px;width:966px;height:1px;background:rgba(0,0,0,0.035)"></div>
<div class="a" style="left:17px;top:471.40px;width:966px;height:1px;background:rgba(255,255,255,0.45)"></div>
<div class="a" style="left:17px;top:488.49px;width:966px;height:1px;background:rgba(0,0,0,0.035)"></div>
<div class="a" style="left:17px;top:488.49px;width:966px;height:1px;background:rgba(255,255,255,0.45)"></div>
<div class="a" style="left:17px;top:505.58px;width:966px;height:1px;background:rgba(0,0,0,0.035)"></div>
<div class="a" style="left:17px;top:505.58px;width:966px;height:1px;background:rgba(255,255,255,0.45)"></div>
<div class="a" style="left:17px;top:522.67px;width:966px;height:1px;background:rgba(0,0,0,0.035)"></div>
<div class="a" style="left:17px;top:522.67px;width:966px;height:1px;background:rgba(255,255,255,0.45)"></div>
<div class="a" style="left:17px;top:539.76px;width:966px;height:1px;background:rgba(0,0,0,0.035)"></div>
<div class="a" style="left:17px;top:539.76px;width:966px;height:1px;background:rgba(255,255,255,0.45)"></div>
<div class="a" style="left:17px;top:556.85px;width:966px;height:1px;background:rgba(0,0,0,0.035)"></div>
<div class="a" style="left:17px;top:556.85px;width:966px;height:1px;background:rgba(255,255,255,0.45)"></div>
<div class="a" style="left:17px;top:573.94px;width:966px;height:1px;background:rgba(0,0,0,0.035)"></div>
<div class="a" style="left:17px;top:573.94px;width:966px;height:1px;background:rgba(255,255,255,0.45)"></div>
<div class="a" style="left:17px;top:591.03px;width:966px;height:1px;background:rgba(0,0,0,0.035)"></div>
<div class="a" style="left:17px;top:591.03px;width:966px;height:1px;background:rgba(255,255,255,0.45)"></div>
<div class="a" style="left:17px;top:608.12px;width:966px;height:1px;background:rgba(0,0,0,0.035)"></div>
<div class="a" style="left:17px;top:608.12px;width:966px;height:1px;background:rgba(255,255,255,0.45)"></div>
<div class="a" style="left:17px;top:625.21px;width:966px;height:1px;background:rgba(0,0,0,0.035)"></div>
<div class="a" style="left:17px;top:625.21px;width:966px;height:1px;background:rgba(255,255,255,0.45)"></div>
<div class="a" style="left:17px;top:642.30px;width:966px;height:1px;background:rgba(0,0,0,0.035)"></div>
<div class="a" style="left:17px;top:642.30px;width:966px;height:1px;background:rgba(255,255,255,0.45)"></div>
<div class="a" style="left:17px;top:659.39px;width:966px;height:1px;background:rgba(0,0,0,0.035)"></div>
<div class="a" style="left:17px;top:659.39px;width:966px;height:1px;background:rgba(255,255,255,0.45)"></div>
<div class="a" style="left:17px;top:676.48px;width:966px;height:1px;background:rgba(0,0,0,0.035)"></div>
<div class="a" style="left:17px;top:676.48px;width:966px;height:1px;background:rgba(255,255,255,0.45)"></div>
<div class="a" style="left:17px;top:693.57px;width:966px;height:1px;background:rgba(0,0,0,0.035)"></div>
<div class="a" style="left:17px;top:693.57px;width:966px;height:1px;background:rgba(255,255,255,0.45)"></div>
<div class="a" style="left:17px;top:710.66px;width:966px;height:1px;background:rgba(0,0,0,0.035)"></div>
<div class="a" style="left:17px;top:710.66px;width:966px;height:1px;background:rgba(255,255,255,0.45)"></div>
<div class="a" style="left:340.5px;top:74px;width:1px;height:637.16px;background:rgba(0,0,0,0.025)"></div>
<div class="a" style="left:340.5px;top:74px;width:1px;height:637.16px;background:rgba(255,255,255,0.3)"></div>
<div class="a" style="left:430.5px;top:74px;width:1px;height:637.16px;background:rgba(0,0,0,0.025)"></div>
<div class="a" style="left:430.5px;top:74px;width:1px;height:637.16px;background:rgba(255,255,255,0.3)"></div>
<div class="a" style="left:522.0px;top:74px;width:1px;height:637.16px;background:rgba(0,0,0,0.025)"></div>
<div class="a" style="left:522.0px;top:74px;width:1px;height:637.16px;background:rgba(255,255,255,0.3)"></div>
<div class="a" style="left:613.2px;top:74px;width:1px;height:637.16px;background:rgba(0,0,0,0.025)"></div>
<div class="a" style="left:613.2px;top:74px;width:1px;height:637.16px;background:rgba(255,255,255,0.3)"></div>
<div class="a" style="left:709.5px;top:74px;width:1px;height:637.16px;background:rgba(0,0,0,0.025)"></div>
<div class="a" style="left:709.5px;top:74px;width:1px;height:637.16px;background:rgba(255,255,255,0.3)"></div>
<div class="a" style="left:800.9px;top:74px;width:1px;height:637.16px;background:rgba(0,0,0,0.025)"></div>
<div class="a" style="left:800.9px;top:74px;width:1px;height:637.16px;background:rgba(255,255,255,0.3)"></div>
<div class="a" style="left:890.9px;top:74px;width:1px;height:637.16px;background:rgba(0,0,0,0.025)"></div>
<div class="a" style="left:890.9px;top:74px;width:1px;height:637.16px;background:rgba(255,255,255,0.3)"></div>
<div class="a" style="left:16.5px;top:74px;width:1px;height:637.16px;background:rgba(0,0,0,0.025)"></div>
<div class="a" style="left:982.5px;top:74px;width:1px;height:637.16px;background:rgba(0,0,0,0.025)"></div>
<div class="a" style="left:96.5px;top:18.2px;font-size:11.3px;color:#1c1ce8;letter-spacing:0.03px">Orçamento 2026</div>
<div class="a" style="left:96px;top:35.7px;font-size:14.67px;color:#1c1ce8;letter-spacing:0.085px">Mapa VI - Depesas dos Serviços e Fundos Autónomos por Classificações Económica e Orgánica</div>
<div class="a" style="left:95px;top:52.4px;font-size:11.3px;color:#1c1ce8;letter-spacing:0.03px">GOV - Ministerio Da Familia, Inclusao e Desenvolvimento Social</div>
<div class="a" style="left:17px;top:5.7px;width:68px;height:62.3px;background:#f8f8f8"></div>
<svg class="a" style="left:0;top:0" width="100" height="80" viewBox="0 0 100 80"><g transform="translate(51.1 33) scale(0.26 0.24)"><polygon points="-98.00,-76.50 -96.15,-71.55 -90.87,-71.32 -95.00,-68.03 -93.59,-62.93 -98.00,-65.85 -102.41,-62.93 -101.00,-68.03 -105.13,-71.32 -99.85,-71.55" fill="#e9c31f"/><polygon points="98.00,-76.50 99.85,-71.55 105.13,-71.32 101.00,-68.03 102.41,-62.93 98.00,-65.85 93.59,-62.93 95.00,-68.03 90.87,-71.32 96.15,-71.55" fill="#e9c31f"/><polygon points="-110.80,-57.50 -108.95,-52.55 -103.67,-52.32 -107.80,-49.03 -106.39,-43.93 -110.80,-46.85 -115.21,-43.93 -113.80,-49.03 -117.93,-52.32 -112.65,-52.55" fill="#e9c31f"/><polygon points="110.80,-57.50 112.65,-52.55 117.93,-52.32 113.80,-49.03 115.21,-43.93 110.80,-46.85 106.39,-43.93 107.80,-49.03 103.67,-52.32 108.95,-52.55" fill="#e9c31f"/><polygon points="-119.60,-36.50 -117.75,-31.55 -112.47,-31.32 -116.60,-28.03 -115.19,-22.93 -119.60,-25.85 -124.01,-22.93 -122.60,-28.03 -126.73,-31.32 -121.45,-31.55" fill="#e9c31f"/><polygon points="119.60,-36.50 121.45,-31.55 126.73,-31.32 122.60,-28.03 124.01,-22.93 119.60,-25.85 115.19,-22.93 116.60,-28.03 112.47,-31.32 117.75,-31.55" fill="#e9c31f"/><polygon points="-121.90,-14.20 -120.05,-9.25 -114.77,-9.02 -118.90,-5.73 -117.49,-0.63 -121.90,-3.55 -126.31,-0.63 -124.90,-5.73 -129.03,-9.02 -123.75,-9.25" fill="#e9c31f"/><polygon points="121.90,-14.20 123.75,-9.25 129.03,-9.02 124.90,-5.73 126.31,-0.63 121.90,-3.55 117.49,-0.63 118.90,-5.73 114.77,-9.02 120.05,-9.25" fill="#e9c31f"/><polygon points="-118.00,9.20 -116.15,14.15 -110.87,14.38 -115.00,17.67 -113.59,22.77 -118.00,19.85 -122.41,22.77 -121.00,17.67 -125.13,14.38 -119.85,14.15" fill="#e9c31f"/><polygon points="118.00,9.20 119.85,14.15 125.13,14.38 121.00,17.67 122.41,22.77 118.00,19.85 113.59,22.77 115.00,17.67 110.87,14.38 116.15,14.15" fill="#e9c31f"/><path d="M-116.0,50.0 Q-98.0,100.0 -55.0,124.0" stroke="#3b9a5c" stroke-width="3.0" fill="none"/><ellipse cx="-123.3" cy="43.9" rx="9.5" ry="3.6" transform="rotate(220.2 -123.3 43.9)" fill="#3b9a5c"/><ellipse cx="-114.3" cy="40.7" rx="9.5" ry="3.6" transform="rotate(280.2 -114.3 40.7)" fill="#3b9a5c"/><ellipse cx="-118.6" cy="57.2" rx="9.5" ry="3.6" transform="rotate(215.4 -118.6 57.2)" fill="#3b9a5c"/><ellipse cx="-109.9" cy="53.2" rx="9.5" ry="3.6" transform="rotate(275.4 -109.9 53.2)" fill="#3b9a5c"/><ellipse cx="-113.0" cy="69.7" rx="9.5" ry="3.6" transform="rotate(210.3 -113.0 69.7)" fill="#3b9a5c"/><ellipse cx="-104.8" cy="65.0" rx="9.5" ry="3.6" transform="rotate(270.3 -104.8 65.0)" fill="#3b9a5c"/><ellipse cx="-106.5" cy="81.4" rx="9.5" ry="3.6" transform="rotate(205.0 -106.5 81.4)" fill="#3b9a5c"/><ellipse cx="-98.8" cy="75.9" rx="9.5" ry="3.6" transform="rotate(265.0 -98.8 75.9)" fill="#3b9a5c"/><ellipse cx="-99.1" cy="92.2" rx="9.5" ry="3.6" transform="rotate(199.4 -99.1 92.2)" fill="#3b9a5c"/><ellipse cx="-91.9" cy="86.0" rx="9.5" ry="3.6" transform="rotate(259.4 -91.9 86.0)" fill="#3b9a5c"/><ellipse cx="-90.8" cy="102.2" rx="9.5" ry="3.6" transform="rotate(193.7 -90.8 102.2)" fill="#3b9a5c"/><ellipse cx="-84.2" cy="95.4" rx="9.5" ry="3.6" transform="rotate(253.7 -84.2 95.4)" fill="#3b9a5c"/><ellipse cx="-81.5" cy="111.4" rx="9.5" ry="3.6" transform="rotate(188.0 -81.5 111.4)" fill="#3b9a5c"/><ellipse cx="-75.6" cy="103.9" rx="9.5" ry="3.6" transform="rotate(248.0 -75.6 103.9)" fill="#3b9a5c"/><ellipse cx="-71.2" cy="119.6" rx="9.5" ry="3.6" transform="rotate(182.5 -71.2 119.6)" fill="#3b9a5c"/><ellipse cx="-66.1" cy="111.6" rx="9.5" ry="3.6" transform="rotate(242.5 -66.1 111.6)" fill="#3b9a5c"/><path d="M116.0,50.0 Q98.0,100.0 55.0,124.0" stroke="#3b9a5c" stroke-width="3.0" fill="none"/><ellipse cx="114.3" cy="40.7" rx="9.5" ry="3.6" transform="rotate(259.8 114.3 40.7)" fill="#3b9a5c"/><ellipse cx="123.3" cy="43.9" rx="9.5" ry="3.6" transform="rotate(319.8 123.3 43.9)" fill="#3b9a5c"/><ellipse cx="109.9" cy="53.2" rx="9.5" ry="3.6" transform="rotate(264.6 109.9 53.2)" fill="#3b9a5c"/><ellipse cx="118.6" cy="57.2" rx="9.5" ry="3.6" transform="rotate(324.6 118.6 57.2)" fill="#3b9a5c"/><ellipse cx="104.8" cy="65.0" rx="9.5" ry="3.6" transform="rotate(269.7 104.8 65.0)" fill="#3b9a5c"/><ellipse cx="113.0" cy="69.7" rx="9.5" ry="3.6" transform="rotate(329.7 113.0 69.7)" fill="#3b9a5c"/><ellipse cx="98.8" cy="75.9" rx="9.5" ry="3.6" transform="rotate(275.0 98.8 75.9)" fill="#3b9a5c"/><ellipse cx="106.5" cy="81.4" rx="9.5" ry="3.6" transform="rotate(335.0 106.5 81.4)" fill="#3b9a5c"/><ellipse cx="91.9" cy="86.0" rx="9.5" ry="3.6" transform="rotate(280.6 91.9 86.0)" fill="#3b9a5c"/><ellipse cx="99.1" cy="92.2" rx="9.5" ry="3.6" transform="rotate(340.6 99.1 92.2)" fill="#3b9a5c"/><ellipse cx="84.2" cy="95.4" rx="9.5" ry="3.6" transform="rotate(286.3 84.2 95.4)" fill="#3b9a5c"/><ellipse cx="90.8" cy="102.2" rx="9.5" ry="3.6" transform="rotate(346.3 90.8 102.2)" fill="#3b9a5c"/><ellipse cx="75.6" cy="103.9" rx="9.5" ry="3.6" transform="rotate(292.0 75.6 103.9)" fill="#3b9a5c"/><ellipse cx="81.5" cy="111.4" rx="9.5" ry="3.6" transform="rotate(352.0 81.5 111.4)" fill="#3b9a5c"/><ellipse cx="66.1" cy="111.6" rx="9.5" ry="3.6" transform="rotate(297.5 66.1 111.6)" fill="#3b9a5c"/><ellipse cx="71.2" cy="119.6" rx="9.5" ry="3.6" transform="rotate(357.5 71.2 119.6)" fill="#3b9a5c"/><ellipse cx="-21" cy="132" rx="21" ry="8.5" transform="rotate(18 -21 132)" fill="none" stroke="#e9c31f" stroke-width="7.5"/><ellipse cx="21" cy="132" rx="21" ry="8.5" transform="rotate(-18 21 132)" fill="none" stroke="#e9c31f" stroke-width="7.5"/><circle r="100" fill="#1f3b77"/><circle r="96.5" fill="#ffffff"/><circle r="93.5" fill="#1f3b77"/><circle r="76" fill="#ffffff"/><clipPath id="cpL"><circle r="76"/></clipPath><g clip-path="url(#cpL)"><rect x="-90" y="28" width="180" height="70" fill="#1f3b77"/><rect x="-90" y="31" width="180" height="5" fill="#ffffff"/><rect x="-65" y="41.5" width="130" height="5" fill="#ffffff"/><rect x="-54" y="55.5" width="108" height="5" fill="#e4e6ea"/><path d="M-36,70 Q0,76 36,70 L33,74 Q0,80 -33,74 Z" fill="#ffffff"/></g><polygon points="0,-38 31,18 -31,18" fill="#1f3b77"/><rect x="-8" y="-10" width="16" height="3" fill="#ffffff"/><rect x="-2" y="-7" width="4" height="20" fill="#ffffff"/><rect x="-10" y="4" width="20" height="3" fill="#ffffff"/><polygon points="0,-26 7,-13 -7,-13" fill="#ffffff"/><path d="M0,-116 L-3,-110 L-9,-102 Q-8,-90 0,-76 Q8,-90 9,-102 L3,-110 Z" fill="#e9c31f"/><path id="arcL" d="M-59.3,18.1 A62,62 0 1,1 59.3,18.1" fill="none"/><text font-family="Liberation Sans, sans-serif" font-size="13" font-weight="bold" fill="#2a2a2a" ><textPath href="#arcL" startOffset="0" textLength="225.6" lengthAdjust="spacing">REPUBLICA DE CABO VERDE</textPath></text></g></svg>
<div class="a" style="left:994px;top:0px;width:6px;height:341px;background:#0000ff"></div>
<div class="a" style="left:994px;top:358px;width:6px;height:80px;background:#ff0000"></div>
<div class="a" style="left:994px;top:460px;width:6px;height:313px;background:#0000ff"></div>
<div class="a" style="left:17px;top:734.5px;font-size:10.13px;color:#111;letter-spacing:0px">Todos os mapas expurgam as operações entre as entidades da administração central, com exceção do mapas V e VI, que apresentam na integridade os fluxos recebidos e</div>
<div class="a" style="left:17px;top:746px;font-size:10.13px;color:#111;letter-spacing:0px">pagos pelos FSA e IP</div>
<div class="a" style="right:16px;top:734.7px;font-size:9.5px;color:#111;letter-spacing:0px">Pagina 1 de 3</div>
<div class="a" style="right:21px;top:745.5px;font-size:9.0px;color:#111;letter-spacing:0px">27-09-2025 16:15</div>
</div></body></html>
